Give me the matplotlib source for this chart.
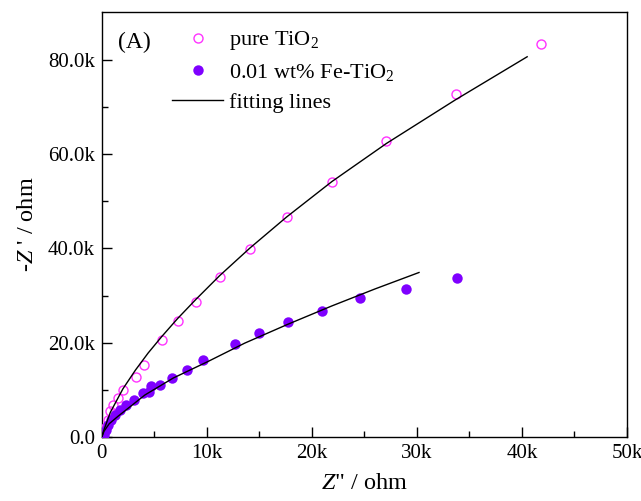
import matplotlib
matplotlib.use('Agg')
import matplotlib.pyplot as plt
import numpy as np

plt.rcParams['font.family'] = ['Liberation Serif', 'DejaVu Serif']
plt.rcParams['mathtext.fontset'] = 'custom'
plt.rcParams['mathtext.rm'] = 'Liberation Serif'
plt.rcParams['mathtext.it'] = 'Liberation Serif:italic'
plt.rcParams['font.size'] = 15

# pure TiO2 (open circles), values in ohm
pure_x = [100, 200, 400, 600, 800, 1100, 1500, 2000, 3200, 4000, 5700, 7200, 9000,
          11200, 14100, 17600, 21900, 27100, 33700, 41800]
pure_y = [500, 1200, 2200, 3600, 5500, 6800, 8200, 10000, 12700, 15300, 20600, 24500,
          28700, 34000, 39900, 46600, 54200, 62900, 72700, 83400]

# 0.01 wt% Fe-TiO2 (filled circles)
fe_x = [200, 400, 600, 900, 1200, 1700, 2300, 3100, 3900, 4500, 4700, 5500, 6700, 8100,
        9600, 12700, 15000, 17700, 20950, 24600, 29000, 33800]
fe_y = [400, 1500, 2500, 3600, 4700, 5700, 6800, 7900, 9300, 9600, 10700, 11000, 12500,
        14100, 16300, 19700, 22000, 24400, 26800, 29400, 31500, 33800]

# fitting lines
fit_pure_x = [0, 100, 800, 2000, 3200, 4400, 5700, 7200, 9000, 11200, 14100, 17600,
              21900, 27100, 33700, 40500]
fit_pure_y = [0, 900, 5200, 10200, 14200, 17800, 21300, 25100, 29300, 34200, 40100,
              46700, 54200, 62300, 71600, 80700]
fit_fe_x = [0, 200, 700, 1550, 4100, 6800, 10100, 13600, 17700, 21900, 26000, 30200]
fit_fe_y = [0, 1200, 2800, 4400, 8900, 12500, 16000, 19900, 23900, 27800, 31400, 34900]

x_ticks = [0, 10000, 20000, 30000, 40000, 50000]
x_ticklabels = ['0', '10k', '20k', '30k', '40k', '50k']
y_ticks = [0, 20000, 40000, 60000, 80000]
y_ticklabels = ['0.0', '20.0k', '40.0k', '60.0k', '80.0k']

fig = plt.figure(figsize=(6.41, 5.01), dpi=100)
ax = fig.add_axes([0.159, 0.128, 0.819, 0.848])

ax.plot(pure_x, pure_y, 'o', mfc='none', mec='#ff33ff', mew=1.0, ms=6.5,
        label='pure TiO$_2$', zorder=3)
ax.plot(fe_x, fe_y, 'o', color='#7f00ff', ms=7.5, mew=0,
        label='0.01 wt% Fe-TiO$_2$', zorder=3)
ax.plot(fit_pure_x, fit_pure_y, '-', color='k', lw=1.0, label='fitting lines', zorder=4)
ax.plot(fit_fe_x, fit_fe_y, '-', color='k', lw=1.0, zorder=4)

ax.set_xlim(0, 50000)
ax.set_ylim(0, 90200)
ax.set_xticks(x_ticks)
ax.set_xticklabels(x_ticklabels)
ax.set_yticks(y_ticks)
ax.set_yticklabels(y_ticklabels)
ax.set_xticks(np.arange(5000, 50000, 10000), minor=True)
ax.set_yticks(np.arange(10000, 90000, 20000), minor=True)
ax.tick_params(which='both', direction='in', top=False, right=False, width=1.0)
ax.tick_params(which='major', length=7, pad=5)
ax.tick_params(which='minor', length=4)
for s in ax.spines.values():
    s.set_linewidth(1.0)

ax.set_xlabel('$Z$" / ohm', fontsize=17.5, labelpad=7)
ax.set_ylabel("-$Z$ ' / ohm", fontsize=17.5, labelpad=7)

ax.text(0.03, 0.929, '(A)', transform=ax.transAxes, va='center', ha='left', fontsize=17)
ax.legend(loc='upper left', bbox_to_anchor=(0.104, 0.996), frameon=False, fontsize=16,
          handlelength=2.3, handletextpad=0.27, labelspacing=0.42, borderaxespad=0.3)

fig.savefig('out.png', dpi=100)
